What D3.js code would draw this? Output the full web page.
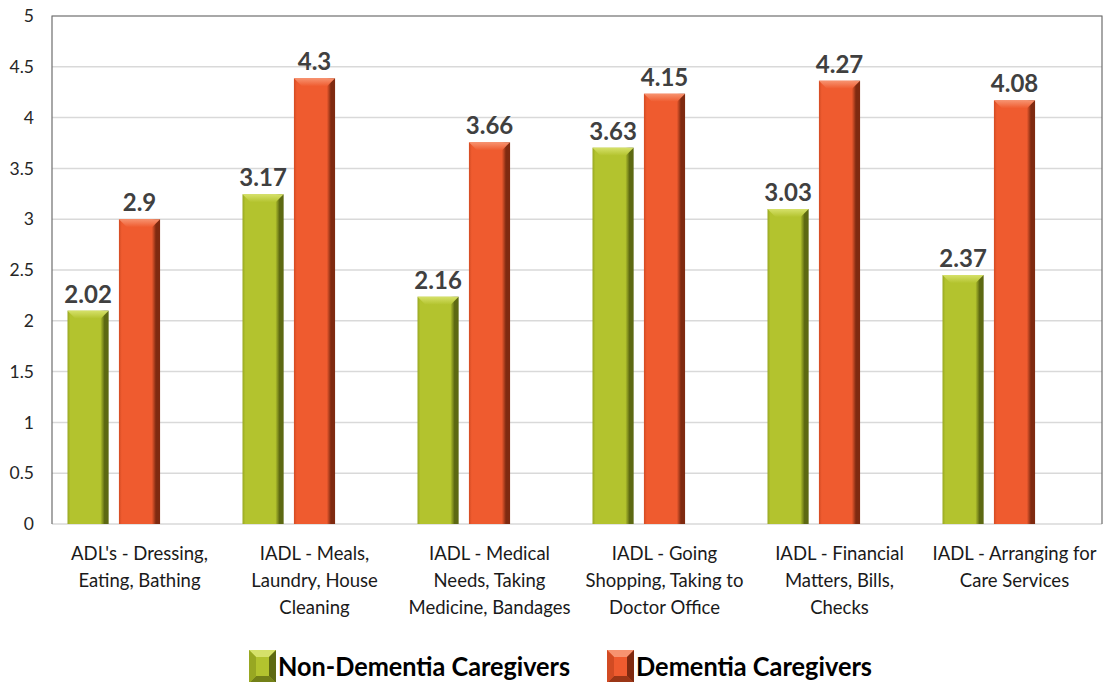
<!DOCTYPE html>
<meta charset="utf-8">
<script src="https://d3js.org/d3.v7.min.js"></script>
<style>
  body { margin: 0; background: #fff; }
  text { font-family: Lato, "Open Sans", sans-serif; }
</style>
<body>
<script>

// Data
var categories = [
  "ADL's - Dressing, Eating, Bathing",
  "IADL - Meals, Laundry, House Cleaning",
  "IADL - Medical Needs, Taking Medicine, Bandages",
  "IADL - Going Shopping, Taking to Doctor Office",
  "IADL - Financial Matters, Bills, Checks",
  "IADL - Arranging for Care Services"
];
// wrapped tick label lines, as shown under the axis
var categoryLines = [
  ["ADL's - Dressing,", "Eating, Bathing"],
  ["IADL - Meals,", "Laundry, House", "Cleaning"],
  ["IADL - Medical", "Needs, Taking", "Medicine, Bandages"],
  ["IADL - Going", "Shopping, Taking to", "Doctor Office"],
  ["IADL - Financial", "Matters, Bills,", "Checks"],
  ["IADL - Arranging for", "Care Services"]
];
var seriesNames = ["Non-Dementia Caregivers", "Dementia Caregivers"];

// data label values
var nonDementiaLabels = [2.02, 3.17, 2.16, 3.63, 3.03, 2.37];
var dementiaLabels    = [2.9, 4.3, 3.66, 4.15, 4.27, 4.08];

// drawn bar heights (3-D bars sit a little above their labels)
var nonDementiaBars = [2.10, 3.245, 2.237, 3.704, 3.10, 2.45];
var dementiaBars    = [3.00, 4.387, 3.757, 4.235, 4.363, 4.17];

var yTicks = [0, 0.5, 1, 1.5, 2, 2.5, 3, 3.5, 4, 4.5, 5];

// Layout
var W = 1105, H = 682;
var margin = {top: 16, right: 3, bottom: 158, left: 52};
var width = W - margin.left - margin.right;
var height = H - margin.top - margin.bottom;

var svg = d3.select("body").append("svg")
    .attr("width", W)
    .attr("height", H);

var defs = svg.append("defs");

var palette = [
  {main: "#b3c32e", light: "#d6e16a", dark: "#5d6912", edge: "#98a722"},
  {main: "#ef5b2f", light: "#f79370", dark: "#7f2a10", edge: "#d24b23"}
];

palette.forEach(function(p, i) {
  var g = defs.append("linearGradient")
      .attr("id", "side" + i)
      .attr("x1", "0").attr("x2", "1").attr("y1", "0").attr("y2", "0");
  g.append("stop").attr("offset", "0").attr("stop-color", p.edge);
  g.append("stop").attr("offset", "0.07").attr("stop-color", p.main);
  g.append("stop").attr("offset", "0.8").attr("stop-color", p.main);
  g.append("stop").attr("offset", "0.9").attr("stop-color", p.dark);
  g.append("stop").attr("offset", "1").attr("stop-color", p.dark);

  var t = defs.append("linearGradient")
      .attr("id", "top" + i)
      .attr("x1", "0").attr("x2", "0").attr("y1", "0").attr("y2", "1");
  t.append("stop").attr("offset", "0").attr("stop-color", p.light);
  t.append("stop").attr("offset", "1").attr("stop-color", p.main);
});

var chart = svg.append("g")
    .attr("transform", "translate(" + margin.left + "," + margin.top + ")");

// Scales
var x0 = d3.scaleBand()
    .domain(categories)
    .range([0, width]);

var x1 = d3.scaleBand()
    .domain(seriesNames.concat(["(blank)"]))
    .range([15.5, x0.bandwidth() - 15.5])
    .paddingInner(0.2);

var yScale = d3.scaleLinear()
    .domain([0, 5])
    .range([height, 0]);

// gridlines
chart.append("g")
    .selectAll("line")
    .data(yTicks)
    .enter().append("line")
    .attr("x1", 0)
    .attr("x2", width)
    .attr("y1", function(d) { return yScale(d); })
    .attr("y2", function(d) { return yScale(d); })
    .attr("stroke", "#d9d9d9")
    .attr("stroke-width", 1.5);

// plot border (top, right) and y axis line
chart.append("path")
    .attr("d", "M0," + height + "V0H" + width + "V" + height)
    .attr("fill", "none")
    .attr("stroke", "#6e6e6e")
    .attr("stroke-width", 1.2);

// y axis
var yAxis = d3.axisLeft(yScale)
    .tickValues(yTicks)
    .tickSize(0)
    .tickPadding(18)
    .tickFormat(d3.format("~g"));

var yAxisGroup = chart.append("g")
    .attr("class", "y axis")
    .call(yAxis);
yAxisGroup.select(".domain").remove();
yAxisGroup.selectAll("text")
    .style("font-size", "17.5px")
    .style("font-family", "Lato, sans-serif")
    .attr("fill", "#262626");

// x axis labels (multi-line)
var xAxisGroup = chart.append("g")
    .attr("class", "x axis")
    .attr("transform", "translate(0," + height + ")");

xAxisGroup.selectAll("text")
    .data(categories)
    .enter().append("text")
    .attr("x", function(d) { return x0(d) + x0.bandwidth() / 2; })
    .attr("y", 36)
    .attr("text-anchor", "middle")
    .attr("fill", "#1a1a1a")
    .style("font-size", "18.5px")
    .each(function(d, i) {
      var t = d3.select(this);
      categoryLines[i].forEach(function(line, k) {
        t.append("tspan")
          .attr("x", x0(d) + x0.bandwidth() / 2)
          .attr("dy", k === 0 ? 0 : 27)
          .text(line);
      });
    });

// bars
var rows = [];
categories.forEach(function(c, i) {
  rows.push({cat: c, s: 0, bar: nonDementiaBars[i], label: nonDementiaLabels[i]});
  rows.push({cat: c, s: 1, bar: dementiaBars[i], label: dementiaLabels[i]});
});

var bw = x1.bandwidth();
var bevel = 8;

var barGroups = chart.selectAll(".bar")
    .data(rows)
    .enter().append("g")
    .attr("class", "bar")
    .attr("transform", function(d) {
      return "translate(" + (x0(d.cat) + x1(seriesNames[d.s])) + ",0)";
    });

barGroups.append("rect")
    .attr("x", 0)
    .attr("y", function(d) { return yScale(d.bar); })
    .attr("width", bw)
    .attr("height", function(d) { return height - yScale(d.bar); })
    .attr("fill", function(d) { return "url(#side" + d.s + ")"; });

barGroups.append("path")
    .attr("d", function(d) {
      var y = yScale(d.bar);
      return "M0," + y + "H" + bw + "L" + (bw - bevel) + "," + (y + bevel) +
        "H" + bevel + "Z";
    })
    .attr("fill", function(d) { return "url(#top" + d.s + ")"; });

barGroups.append("text")
    .attr("x", bw / 2)
    .attr("y", function(d) { return yScale(d.bar) - 8; })
    .attr("text-anchor", "middle")
    .attr("fill", "#404040")
    .style("font-size", "24px")
    .style("font-weight", "bold")
    .text(function(d) { return d.label; });

// legend
var legendX = [249, 607];
var legend = svg.selectAll(".legend")
    .data(seriesNames)
    .enter().append("g")
    .attr("class", "legend")
    .attr("transform", function(d, i) { return "translate(" + legendX[i] + ",650)"; });

var sw = 27, sh = 33, sb = 7;
legend.each(function(d, i) {
  var g = d3.select(this), p = palette[i];
  g.append("rect").attr("width", sw).attr("height", sh).attr("fill", p.main);
  g.append("path").attr("d", "M0,0H" + sw + "L" + (sw - sb) + "," + sb + "H" + sb + "Z").attr("fill", p.light);
  g.append("path").attr("d", "M" + sw + ",0V" + sh + "L" + (sw - sb) + "," + (sh - sb) + "V" + sb + "Z").attr("fill", p.dark);
  g.append("path").attr("d", "M0," + sh + "H" + sw + "L" + (sw - sb) + "," + (sh - sb) + "H" + sb + "Z").attr("fill", p.dark).attr("opacity", 0.75);
  g.append("path").attr("d", "M0,0V" + sh + "L" + sb + "," + (sh - sb) + "V" + sb + "Z").attr("fill", p.edge);
});

legend.append("text")
    .attr("x", 29)
    .attr("y", 26)
    .attr("fill", "#000")
    .style("font-size", "27px")
    .style("font-weight", "bold")
    .attr("textLength", function(d, i) { return i === 0 ? 292 : 236; })
    .attr("lengthAdjust", "spacingAndGlyphs")
    .text(function(d) { return d; });

</script>
</body>
